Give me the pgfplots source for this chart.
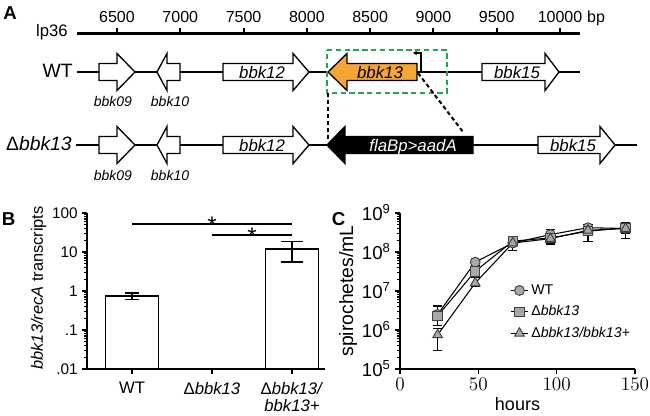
\documentclass[border=0pt]{standalone}
\usepackage{pgfplots}
\pgfplotsset{compat=1.18}
\usepackage{fontspec}
\setmainfont{Liberation Sans}
\usetikzlibrary{arrows.meta}
\definecolor{geneorange}{HTML}{F5A536}
\definecolor{boxgreen}{HTML}{1FA652}
\definecolor{markgray}{HTML}{A8A8A8}
\newcommand\fs[1]{\fontsize{#1pt}{#1pt}\selectfont}

\pgfplotstableread{
x y ep em
24 2.5e6 1.6e6 0.6e6
48 5.5e7 1.0e7 1.0e7
72 1.7e8 0.3e8 0.3e8
96 2.8e8 0.9e8 1.0e8
120 4.2e8 1.0e8 1.0e8
144 4.0e8 1.5e8 1.0e8
}\wt
\pgfplotstableread{
x y ep em
24 2.3e6 2.0e6 1.0e6
48 3.2e7 1.3e7 1.0e7
72 1.9e8 0.3e8 0.3e8
96 2.3e8 0.6e8 0.7e8
120 3.4e8 1.6e8 1.5e8
144 4.2e8 1.5e8 1.0e8
}\ko
\pgfplotstableread{
x y ep em
24 7.5e5 3.5e5 4.5e5
48 1.6e7 0.7e7 0.3e7
72 1.7e8 0.3e8 0.6e8
96 2.2e8 0.5e8 0.5e8
120 3.6e8 1.0e8 1.7e8
144 4.0e8 0.8e8 1.8e8
}\comp

\begin{document}
\begin{tikzpicture}
\useasboundingbox (0,0) rectangle (487.5pt,-311.25pt);

% ---------------- Panel A ----------------
\begin{axis}[at={(0pt,0pt)}, anchor=north west, scale only axis,
  width=487.5pt, height=150pt,
  xmin=5575.6, xmax=10711.1, ymin=0, ymax=200, y dir=reverse,
  hide axis, clip=false]
% scale bar
\addplot[black, line width=2.25pt] coordinates {(6184,33.3)(10158,33.3)};
\addplot[black, line width=1.5pt, unbounded coords=jump] coordinates {
 (6500,33)(6500,28)(6500,nan)(7000,33)(7000,28)(7000,nan)
 (7500,33)(7500,28)(7500,nan)(8000,33)(8000,28)(8000,nan)
 (8500,33)(8500,28)(8500,nan)(9000,33)(9000,28)(9000,nan)
 (9500,33)(9500,28)(9500,nan)(10000,33)(10000,28)};
\node[anchor=base, font=\fs{12}] at (axis cs:6500,22.7) {6500};
\node[anchor=base, font=\fs{12}] at (axis cs:7000,22.7) {7000};
\node[anchor=base, font=\fs{12}] at (axis cs:7500,22.7) {7500};
\node[anchor=base, font=\fs{12}] at (axis cs:8000,22.7) {8000};
\node[anchor=base, font=\fs{12}] at (axis cs:8500,22.7) {8500};
\node[anchor=base, font=\fs{12}] at (axis cs:9000,22.7) {9000};
\node[anchor=base, font=\fs{12}] at (axis cs:9500,22.7) {9500};
\node[anchor=base, font=\fs{12}] at (axis cs:10000,22.7) {10000};
\node[anchor=base west, inner sep=0pt, font=\fs{12}] at (axis cs:10213,22.7) {bp};
\node[anchor=base east, inner sep=0pt, font=\fs{12.5}] at (axis cs:6113,36.7) {lp36};
% row 1 backbone
\addplot[black, line width=2pt] coordinates {(6184,72)(10158,72)};
\node[anchor=base east, inner sep=0pt, font=\fs{14.5}] at (axis cs:6152,77.3) {WT};
% genes row 1
\addplot[draw=black, fill=white, line width=1pt] coordinates {(6358,63.5)(6500,63.5)(6500,53.5)(6642,72)(6500,90.5)(6500,80.5)(6358,80.5)} --cycle;
\addplot[draw=black, fill=white, line width=1pt] coordinates {(6998,63.5)(6895,63.5)(6895,53.5)(6816,72)(6895,90.5)(6895,80.5)(6998,80.5)} --cycle;
\addplot[draw=black, fill=white, line width=1pt] coordinates {(7337,63.5)(7891,63.5)(7891,53.5)(8017,72)(7891,90.5)(7891,80.5)(7337,80.5)} --cycle;
\addplot[draw=black, fill=geneorange, line width=1pt] coordinates {(8870,63.5)(8317,63.5)(8317,53.5)(8167,72)(8317,90.5)(8317,80.5)(8870,80.5)} --cycle;
\addplot[draw=black, fill=white, line width=1pt] coordinates {(9384,63.5)(9882,63.5)(9882,53.5)(9992,72)(9882,90.5)(9882,80.5)(9384,80.5)} --cycle;
% promoter
\addplot[black, line width=0.9pt, -{Stealth[length=3pt,width=3.5pt]}] coordinates {(8902,72)(8902,53)(8839,53)};
\node[anchor=base, font=\fs{12.6}\itshape] at (axis cs:7646,78.3) {bbk12};
\node[anchor=base, font=\fs{12.6}\itshape] at (axis cs:8578,78.3) {bbk13};
\node[anchor=base, font=\fs{12.6}\itshape] at (axis cs:9660,78.3) {bbk15};
\node[anchor=base, font=\fs{10.5}\itshape] at (axis cs:6468,106) {bbk09};
\node[anchor=base, font=\fs{10.5}\itshape] at (axis cs:6919,106) {bbk10};
% row 2 backbone
\addplot[black, line width=2pt] coordinates {(6176,145)(10608,145)};
\node[anchor=base east, inner sep=0pt, font=\fs{14.5}] at (axis cs:6144,150) {Δ\textit{bbk13}};
\addplot[draw=black, fill=white, line width=1pt] coordinates {(6358,136.5)(6500,136.5)(6500,126.5)(6642,145)(6500,163.5)(6500,153.5)(6358,153.5)} --cycle;
\addplot[draw=black, fill=white, line width=1pt] coordinates {(6998,136.5)(6895,136.5)(6895,126.5)(6816,145)(6895,163.5)(6895,153.5)(6998,153.5)} --cycle;
\addplot[draw=black, fill=white, line width=1pt] coordinates {(7337,136.5)(7891,136.5)(7891,126.5)(8017,145)(7891,163.5)(7891,153.5)(7337,153.5)} --cycle;
\addplot[draw=black, fill=black, line width=1pt] coordinates {(9313,136.5)(8301,136.5)(8301,126.5)(8159,145)(8301,163.5)(8301,153.5)(9313,153.5)} --cycle;
\addplot[draw=black, fill=white, line width=1pt] coordinates {(9826,136.5)(10316,136.5)(10316,126.5)(10435,145)(10316,163.5)(10316,153.5)(9826,153.5)} --cycle;
\node[anchor=base, font=\fs{12.6}\itshape] at (axis cs:7646,151.3) {bbk12};
\node[anchor=base, font=\fs{12.6}\itshape] at (axis cs:10103,151.3) {bbk15};
\node[anchor=base, font=\fs{12.6}\itshape, text=white] at (axis cs:8839,151.3) {flaBp>aadA};
\node[anchor=base, font=\fs{10.5}\itshape] at (axis cs:6468,180.5) {bbk09};
\node[anchor=base, font=\fs{10.5}\itshape] at (axis cs:6919,180.5) {bbk10};
% green box and dashed connectors
\addplot[draw=boxgreen, line width=1.5pt, dash pattern=on 4pt off 2.6pt] coordinates {(8159,50)(9107,50)(9107,93)(8159,93)} --cycle;
\addplot[black, line width=1.5pt, dash pattern=on 3pt off 2.2pt] coordinates {(8167,93)(8167,140)};
\addplot[black, line width=1.5pt, dash pattern=on 3pt off 2.2pt] coordinates {(8878,73)(9234,132)};
\end{axis}

% panel letters
\node[anchor=base west, inner sep=0pt, font=\fs{14}\bfseries] at (2.25pt,-14.5pt) {A};
\node[anchor=base west, inner sep=0pt, font=\fs{14}\bfseries] at (1.25pt,-168.75pt) {B};
\node[anchor=base west, inner sep=0pt, font=\fs{14}\bfseries] at (248.75pt,-168.75pt) {C};

% ---------------- Panel B ----------------
\begin{axis}[at={(65.25pt,-276.75pt)}, anchor=south west, scale only axis,
  width=178.5pt, height=117pt,
  ymode=log, ymin=0.01, ymax=100, log origin=infty,
  xmin=-0.5625, xmax=2.4125,
  axis lines=left, axis line style={-, line width=1.1pt},
  tick style={black, line width=1pt}, tick align=outside,
  major tick length=3.5pt, minor tick length=2pt,
  ytick={0.01,0.1,1,10,100}, yticklabels={.01,.1,1,10,100},
  minor ytick={0.02,0.03,0.04,0.05,0.06,0.07,0.08,0.09,0.2,0.3,0.4,0.5,0.6,0.7,0.8,0.9,2,3,4,5,6,7,8,9,20,30,40,50,60,70,80,90},
  yticklabel style={font=\fs{11.5}},
  xtick={0,1,2},
  xticklabels={WT, Δ\textit{bbk13}, Δ\textit{bbk13/}\\\textit{bbk13+}},
  xticklabel style={font=\fontsize{12.5pt}{13pt}\selectfont, align=center, yshift=-3pt},
  ylabel={\textit{bbk13/recA} transcripts},
  ylabel style={font=\fs{12.3}, at={(axis description cs:-0.151,0.52)}, anchor=south},
  clip=false]
\addplot[ybar, bar width=0.6625, draw=black, fill=white, line width=1.1pt,
  error bars/.cd, y dir=both, y explicit,
  error bar style={line width=1.1pt},
  error mark options={rotate=90, mark size=5.6pt, line width=1.1pt}]
  coordinates {(0,0.74) += (0,0.16) -= (0,0.13)};
\addplot[ybar, bar width=0.6625, draw=black, fill=white, line width=1.1pt,
  error bars/.cd, y dir=both, y explicit,
  error bar style={line width=1.1pt},
  error mark options={rotate=90, mark size=8.6pt, line width=1.1pt}]
  coordinates {(2,11.9) += (0,6.5) -= (0,6.3)};
\addplot[black, line width=1.3pt] coordinates {(0,52)(2,52)};
\addplot[black, line width=1.3pt] coordinates {(1,27)(2,27)};
\node[anchor=base, font=\fs{18}, yshift=-7pt] at (axis cs:1,52) {*};
\node[anchor=base, font=\fs{18}, yshift=-7pt] at (axis cs:1.5,27) {*};
\end{axis}

% ---------------- Panel C ----------------
\begin{axis}[at={(300pt,-276.75pt)}, anchor=south west, scale only axis,
  width=176.25pt, height=117pt,
  ymode=log, ymin=1e5, ymax=1e9, xmin=0, xmax=150,
  axis lines=left, axis line style={-, line width=1.1pt},
  tick style={black, line width=1pt}, tick align=outside,
  major tick length=3.5pt, minor tick length=2pt,
  xtick={0,50,100,150},
  ytick={1e5,1e6,1e7,1e8,1e9},
  yticklabels={10\textsuperscript{5},10\textsuperscript{6},10\textsuperscript{7},10\textsuperscript{8},10\textsuperscript{9}},
  minor ytick={2e5,3e5,4e5,5e5,6e5,7e5,8e5,9e5,2e6,3e6,4e6,5e6,6e6,7e6,8e6,9e6,2e7,3e7,4e7,5e7,6e7,7e7,8e7,9e7,2e8,3e8,4e8,5e8,6e8,7e8,8e8,9e8},
  ticklabel style={font=\fs{14}},
  xlabel={hours},
  xlabel style={font=\fs{13.5}, at={(axis description cs:0.5,-0.263)}, anchor=base},
  ylabel={spirochetes/mL},
  ylabel style={font=\fs{14.5}, at={(axis description cs:-0.162,0.5)}, anchor=south},
  legend style={at={(0.468,0.56)}, anchor=north west, draw=none, fill=none,
    font=\fs{10.6}, row sep=3pt, inner sep=0pt, cells={anchor=west}},
  legend image code/.code={\draw[mark repeat=2,mark phase=2,#1] plot coordinates {(0pt,0pt)(6.5pt,0pt)(13pt,0pt)};},
  clip=false]
\addplot[black, line width=0.8pt, mark=*, mark size=3.7pt,
  mark options={fill=markgray, draw=black!75, line width=0.7pt},
  error bars/.cd, y dir=both, y explicit,
  error bar style={line width=0.8pt, black},
  error mark options={rotate=90, mark size=3.5pt, line width=0.8pt, black}]
  table[x=x, y=y, y error plus=ep, y error minus=em] {\wt};
\addlegendentry{WT}
\addplot[black, line width=0.8pt, mark=square*, mark size=3.5pt,
  mark options={fill=markgray, draw=black!75, line width=0.7pt},
  error bars/.cd, y dir=both, y explicit,
  error bar style={line width=0.8pt, black},
  error mark options={rotate=90, mark size=3.5pt, line width=0.8pt, black}]
  table[x=x, y=y, y error plus=ep, y error minus=em] {\ko};
\addlegendentry{Δ\textit{bbk13}}
\addplot[black, line width=0.8pt, mark=triangle*, mark size=4.2pt,
  mark options={fill=markgray, draw=black!75, line width=0.7pt},
  error bars/.cd, y dir=both, y explicit,
  error bar style={line width=0.8pt, black},
  error mark options={rotate=90, mark size=3.5pt, line width=0.8pt, black}]
  table[x=x, y=y, y error plus=ep, y error minus=em] {\comp};
\addlegendentry{Δ\textit{bbk13/bbk13+}}
\end{axis}
\end{tikzpicture}
\end{document}
